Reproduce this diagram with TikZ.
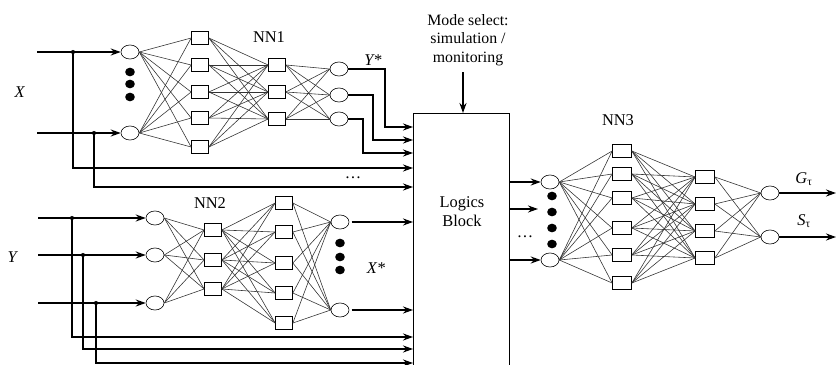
\documentclass[tikz,border=0pt]{standalone}
\usepackage{fontspec}
\setmainfont{Liberation Serif}
\usetikzlibrary{shapes.geometric,arrows.meta}
\begin{document}
\begin{tikzpicture}[x=0.03cm,y=-0.03cm,
 neuron/.style={draw,ellipse,minimum width=0.54cm,minimum height=0.42cm,inner sep=0pt,fill=white,line width=0.5pt},
 unit/.style={draw,rectangle,minimum width=0.51cm,minimum height=0.39cm,inner sep=0pt,fill=white,line width=0.6pt},
 wideunit/.style={unit,minimum width=0.57cm},
 edge/.style={line width=0.5pt,draw=black!80},
 sig/.style={line width=1.3pt},
 arr/.style={sig,-{Stealth[length=8.5pt,width=6pt]}},
 blob/.style={fill=black,ellipse,minimum width=0.29cm,minimum height=0.26cm,inner sep=0pt},
 jdot/.style={circle,fill=black,inner sep=0pt,minimum size=3.5pt},
 lbl/.style={font=\fontsize{14}{16}\selectfont,inner sep=0pt},
]
\useasboundingbox (0,0) rectangle (836,365);

% ---------------- NN1 ----------------
\node[neuron] (p1) at (130,52) {};
\node[neuron] (p2) at (130,133) {};
\foreach \y [count=\i] in {72,84,97} \node[blob] (pb\i) at (130,\y) {};
\foreach \y [count=\i] in {38,65,92,118,147} \node[unit] (q\i) at (200,\y) {};
\foreach \y [count=\i] in {65,92,119} \node[unit] (r\i) at (277,\y) {};
\foreach \y [count=\i] in {69,95,119} \node[neuron] (s\i) at (339,\y) {};
\foreach \i in {1,2} \foreach \j in {1,...,5} \draw[edge] (p\i.east) -- (q\j.west);
\foreach \i in {1,...,5} \foreach \j in {1,2,3} \draw[edge] (q\i.east) -- (r\j.west);
\foreach \i in {1,2,3} \foreach \j in {1,2,3} \draw[edge] (r\i.east) -- (s\j.west);
\node[lbl] (nn1) at (269,37) {NN1};
\node[lbl] (ystar) at (373,60) {\textit{Y*}};
\node[lbl] (xlab) at (20,92) {\textit{X}};

% ---------------- Logics block ----------------
\coordinate (bl) at (413,365);
\coordinate (tl) at (413,113);
\coordinate (tr) at (509,113);
\coordinate (br) at (509,365);
\draw[line width=0.7pt] (bl) -- (tl) -- (tr) -- (br);
\node[lbl,align=center] (logic) at (462,212) {Logics\\Block};
\node[lbl,align=center,font=\fontsize{13.5}{15.7}\selectfont] (mode) at (468,40) {Mode select:\\simulation /\\monitoring};
\coordinate (mtop) at (463,72);
\coordinate (mbot) at (463,113);
\draw[arr] (mtop) -- (mbot);

% block input coordinates
\foreach \y [count=\i] in {127,140,153,168,187,222,310,337,349,363} \coordinate (b\i) at (413,\y);

% NN1 signals
\coordinate (x1s) at (37,52);
\coordinate (x2s) at (37,133);
\coordinate (j11) at (73,52);
\coordinate (j12) at (94,133);
\draw[arr] (x1s) -- (p1.west);
\draw[arr] (x2s) -- (p2.west);
\node[jdot] at (j11) {};
\node[jdot] at (j12) {};
\draw[arr] (j11) |- (b4);
\draw[arr] (j12) |- (b5);
\coordinate (k1) at (385,127);
\coordinate (k2) at (373,140);
\coordinate (k3) at (363,153);
\draw[arr] (s1.east) -| (k1) -- (b1);
\draw[arr] (s2.east) -| (k2) -- (b2);
\draw[arr] (s3.east) -| (k3) -- (b3);
\node[lbl] (dots1) at (353,178) {\dots};

% ---------------- NN2 ----------------
\foreach \y [count=\i] in {218,255,303} \node[neuron] (u\i) at (155,\y) {};
\foreach \y [count=\i] in {230,260,289} \node[unit] (v\i) at (213,\y) {};
\foreach \y [count=\i] in {203,232,263,293,323} \node[unit] (w\i) at (284,\y) {};
\foreach \y [count=\i] in {222,310} \node[neuron] (z\i) at (340,\y) {};
\foreach \y [count=\i] in {243,257,270} \node[blob] (zb\i) at (340,\y) {};
\foreach \i in {1,2,3} \foreach \j in {1,2,3} \draw[edge] (u\i.east) -- (v\j.west);
\foreach \i in {1,2,3} \foreach \j in {1,...,5} \draw[edge] (v\i.east) -- (w\j.west);
\foreach \i in {1,...,5} \foreach \j in {1,2} \draw[edge] (w\i.east) -- (z\j.west);
\node[lbl] (nn2) at (210,203) {NN2};
\node[lbl] (xstar) at (376,268) {\textit{X*}};
\node[lbl] (ylab) at (13,257) {\textit{Y}};

\foreach \y [count=\i] in {218,255,303} \coordinate (ys\i) at (38,\y);
\coordinate (j21) at (72,218);
\coordinate (j22) at (83,255);
\coordinate (j23) at (96,303);
\foreach \i in {1,2,3} \draw[arr] (ys\i) -- (u\i.west);
\foreach \i in {1,2,3} \node[jdot] at (j2\i) {};
\draw[arr] (j21) |- (b8);
\draw[arr] (j22) |- (b9);
\draw[arr] (j23) |- (b10);
\draw[arr,shorten <=2pt] (z1.east) -- (b6);
\draw[arr,shorten <=2pt] (z2.east) -- (b7);

% ---------------- NN3 ----------------
\node[neuron] (c1) at (550,182) {};
\node[neuron] (c2) at (550,260) {};
\foreach \y [count=\i] in {196,212,228,244} \node[blob] (cb\i) at (552,\y) {};
\foreach \y [count=\i] in {151,174,198,228,255,283} \node[wideunit] (d\i) at (622,\y) {};
\foreach \y [count=\i] in {177,204,231,258} \node[wideunit] (e\i) at (705,\y) {};
\foreach \y [count=\i] in {193,237} \node[neuron] (f\i) at (770,\y) {};
\foreach \i in {1,2} \foreach \j in {1,...,6} \draw[edge] (c\i.east) -- (d\j.west);
\foreach \i in {1,...,6} \foreach \j in {1,...,4} \draw[edge] (d\i.east) -- (e\j.west);
\foreach \i in {1,...,4} \foreach \j in {1,2} \draw[edge] (e\i.east) -- (f\j.west);
\node[lbl] (nn3) at (618,120) {NN3};
\node[lbl] (glab) at (804,179) {\textit{G}\textsubscript{τ}};
\node[lbl] (slab) at (804,221) {\textit{S}\textsubscript{τ}};

\coordinate (o1) at (509,182);
\coordinate (o2) at (509,209);
\coordinate (o2e) at (538,209);
\coordinate (o3) at (509,260);
\draw[arr] (o1) -- (c1.west);
\draw[arr] (o2) -- (o2e);
\draw[arr] (o3) -- (c2.west);
\node[lbl] (dots3) at (525,237) {\dots};
\coordinate (g1) at (836,193);
\coordinate (g2) at (836,237);
\draw[arr] (f1.east) -- (g1);
\draw[arr] (f2.east) -- (g2);
\end{tikzpicture}
\end{document}
